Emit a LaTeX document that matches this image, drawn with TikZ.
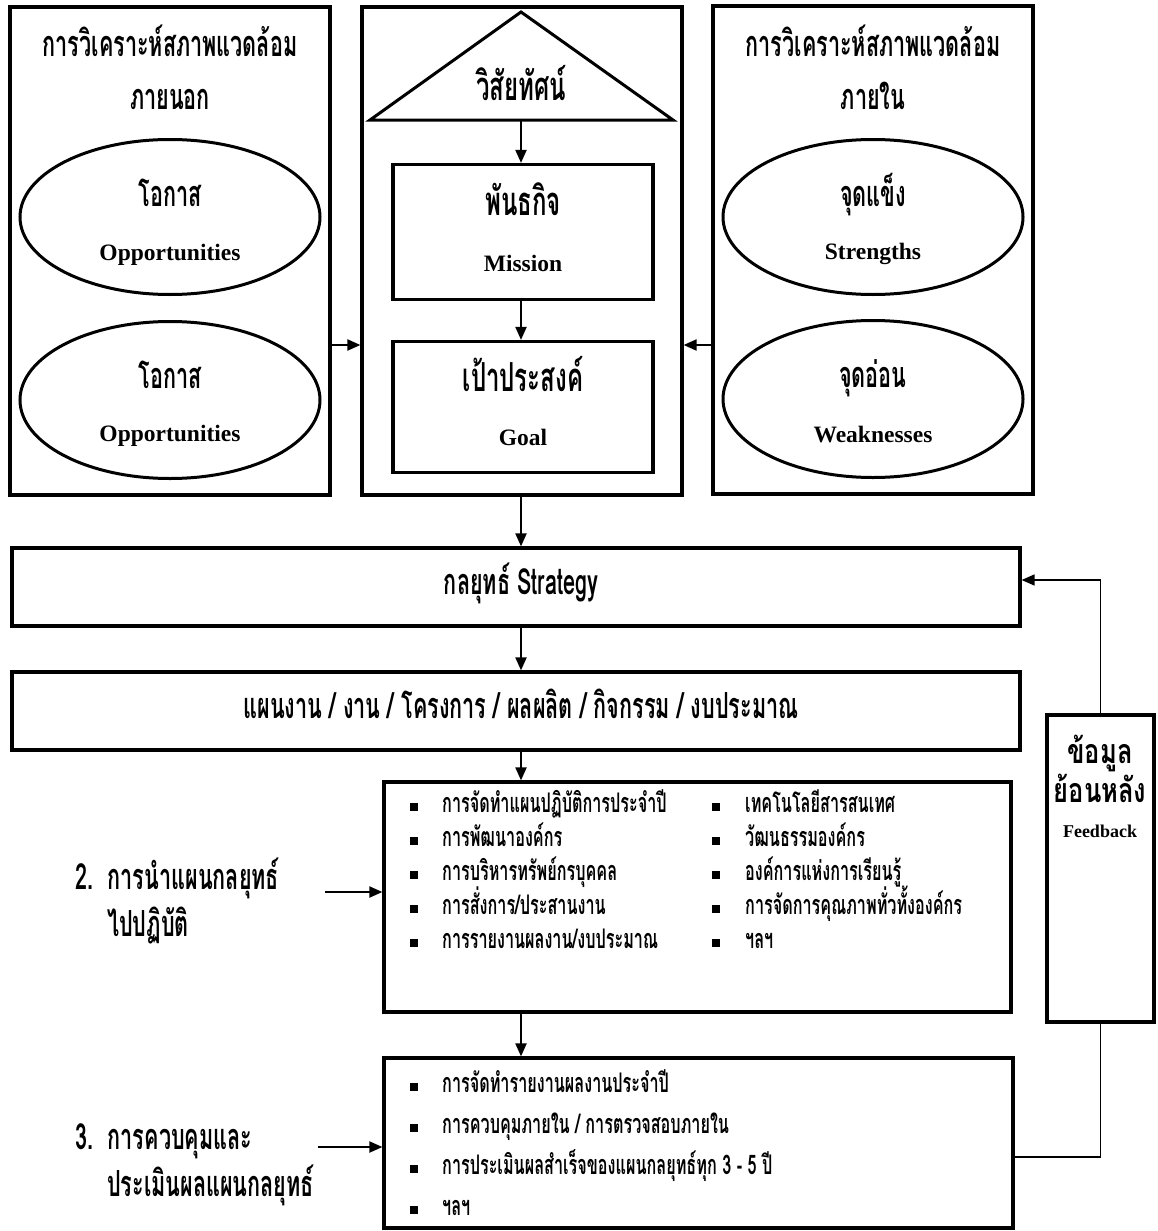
\documentclass[tikz,border=0pt]{standalone}
\usepackage{fontspec}
\setmainfont{Liberation Serif}
\newfontfamily\thai[Script=Thai,FakeStretch=0.6]{Loma}
\newfontfamily\thaiw[Script=Thai,FakeStretch=0.75]{Loma}
\usetikzlibrary{arrows.meta,shapes.geometric}
\begin{document}
\begin{tikzpicture}[x=1pt,y=-1pt,
  thk/.style={draw,line width=3.2pt,inner sep=0pt},
  arr/.style={-{Triangle[length=13pt,width=11pt]},line width=2pt},
  fbl/.style={line width=1.6pt},
  ell/.style={draw,ellipse,line width=3pt,inner sep=0pt},
  th/.style={font=\thai\bfseries\fontsize{36}{38}\selectfont,inner sep=0pt,text height=23pt,text depth=10pt},
  thb/.style={font=\thai\bfseries\fontsize{40}{42}\selectfont,inner sep=0pt,text height=26pt,text depth=11pt},
  thf/.style={font=\thaiw\bfseries\fontsize{34}{36}\selectfont,inner sep=0pt,text height=22pt,text depth=9pt},
  en/.style={font=\bfseries\fontsize{23.5}{25}\selectfont,inner sep=0pt},
  itm/.style={font=\thai\bfseries\fontsize{27}{29}\selectfont,anchor=west,inner sep=0pt,text height=17pt,text depth=6pt},
  lab/.style={font=\thai\bfseries\fontsize{36}{38}\selectfont,anchor=west,inner sep=0pt,text height=23pt,text depth=10pt},
  bul/.style={fill=black,minimum size=8pt,inner sep=0pt}
]
\fill[white] (0,0) rectangle (1158,1231);
\useasboundingbox (0,0) rectangle (1158,1231);

% ---------- top three panels ----------
\node[thk,minimum width=320pt,minimum height=488pt] (lbox) at (170,251) {};
\node[thk,minimum width=320pt,minimum height=488pt] (mbox) at (522,251) {};
\node[thk,minimum width=320pt,minimum height=488pt] (rbox) at (873,250) {};

% left panel
\node[th] (lt1) at (170,50) {การวิเคราะห์สภาพแวดล้อม};
\node[th] (lt2) at (170,103) {ภายนอก};
\node[ell,minimum width=300pt,minimum height=155pt] (o1) at (170,217) {};
\node[th] (o1t) at (170,200) {โอกาส};
\node[en] (o1e) at (170,255) {Opportunities};
\node[ell,minimum width=300pt,minimum height=157pt] (o2) at (170,400) {};
\node[th] (o2t) at (170,382) {โอกาส};
\node[en] (o2e) at (170,436) {Opportunities};

% right panel
\node[th] (rt1) at (873,50) {การวิเคราะห์สภาพแวดล้อม};
\node[th] (rt2) at (873,103) {ภายใน};
\node[ell,minimum width=300pt,minimum height=155pt] (s1) at (873,217) {};
\node[th] (s1t) at (873,200) {จุดแข็ง};
\node[en] (s1e) at (873,254) {Strengths};
\node[ell,minimum width=300pt,minimum height=157pt] (w1) at (873,399) {};
\node[th] (w1t) at (873,381) {จุดอ่อน};
\node[en] (w1e) at (873,435) {Weaknesses};

% middle panel
\draw[line width=3pt,line join=miter] (521,12) -- (673,120) -- (370,120) -- cycle;
\coordinate (tribase) at (521,120);
\node[thb] (vis) at (521,93) {วิสัยทัศน์};
\node[thk,minimum width=260pt,minimum height=135pt] (mis) at (523,232) {};
\node[thb] (mist) at (523,208) {พันธกิจ};
\node[en] (mise) at (523,263) {Mission};
\node[thk,minimum width=260pt,minimum height=131pt] (goal) at (523,407) {};
\node[thb] (goalt) at (523,384) {เป้าประสงค์};
\node[en] (goale) at (523,437) {Goal};

\coordinate (cx) at (521,0);
\draw[arr] (tribase) -- (mis.north -| cx);
\draw[arr] (mis.south -| cx) -- (goal.north -| cx);

\coordinate (ay) at (0,345);
\draw[arr] (lbox.east |- ay) -- (mbox.west |- ay);
\draw[arr] (rbox.west |- ay) -- (mbox.east |- ay);

% ---------- strategy and plan bars ----------
\node[thk,minimum width=1008pt,minimum height=78pt] (strat) at (516,587) {};
\node[th] (stratt) at (521,588) {กลยุทธ์ Strategy};
\node[thk,minimum width=1008pt,minimum height=78pt] (plan) at (516,711) {};
\node[th] (plant) at (521,712) {แผนงาน / งาน / โครงการ / ผลผลิต / กิจกรรม / งบประมาณ};

\draw[arr] (mbox.south -| cx) -- (strat.north -| cx);
\draw[arr] (strat.south -| cx) -- (plan.north -| cx);

% ---------- implementation box ----------
\node[thk,minimum width=627pt,minimum height=230pt] (impl) at (697.5,897) {};
\draw[arr] (plan.south -| cx) -- (impl.north -| cx);
\foreach \t [count=\i] in {การจัดทำแผนปฏิบัติการประจำปี,การพัฒนาองค์กร,การบริหารทรัพย์กรบุคคล,การสั่งการ/ประสานงาน,การรายงานผลงาน/งบประมาณ}{
  \node[bul] (ib\i) at (414,{807+(\i-1)*34}) {};
  \node[itm] (it\i) at (442,{807+(\i-1)*34}) {\t};
}
\foreach \t [count=\i] in {เทคโนโลยีสารสนเทศ,วัฒนธรรมองค์กร,องค์การแห่งการเรียนรู้,การจัดการคุณภาพทั่วทั้งองค์กร,ฯลฯ}{
  \node[bul] (jb\i) at (716,{807+(\i-1)*34}) {};
  \node[itm] (jt\i) at (745,{807+(\i-1)*34}) {\t};
}

% ---------- control box ----------
\node[thk,minimum width=629pt,minimum height=170pt] (ctrl) at (698.5,1143) {};
\draw[arr] (impl.south -| cx) -- (ctrl.north -| cx);
\foreach \t [count=\i] in {การจัดทำรายงานผลงานประจำปี,การควบคุมภายใน / การตรวจสอบภายใน,การประเมินผลสำเร็จของแผนกลยุทธ์ทุก 3 - 5 ปี,ฯลฯ}{
  \node[bul] (kb\i) at (414,{1087+(\i-1)*41}) {};
  \node[itm] (kt\i) at (442,{1087+(\i-1)*41}) {\t};
}

% ---------- left labels ----------
\node[lab] (l2a) at (75,883) {2.\ \ การนำแผนกลยุทธ์};
\node[lab] (l2b) at (107,930) {ไปปฏิบัติ};
\coordinate (a2) at (325,892);
\draw[arr] (a2) -- (impl.west |- a2);
\node[lab] (l3a) at (75,1143) {3.\ \ การควบคุมและ};
\node[lab] (l3b) at (107,1190) {ประเมินผลแผนกลยุทธ์};
\coordinate (a3) at (318,1147);
\draw[arr] (a3) -- (ctrl.west |- a3);

% ---------- feedback ----------
\node[thk,minimum width=107pt,minimum height=307pt] (fb) at (1100.5,868.5) {};
\node[thf] (fb1) at (1100,757) {ข้อมูล};
\node[thf] (fb2) at (1100,796) {ย้อนหลัง};
\node[font=\bfseries\fontsize{18}{20}\selectfont,inner sep=0pt] (fb3) at (1100,831) {Feedback};
\coordinate (fy1) at (0,580);
\coordinate (fy2) at (0,1157);
\draw[fbl,-{Triangle[length=13pt,width=11pt]}] (fb.north) -- (fb.north |- fy1) -- (strat.east |- fy1);
\draw[fbl] (fb.south) -- (fb.south |- fy2) -- (ctrl.east |- fy2);
\end{tikzpicture}
\end{document}
